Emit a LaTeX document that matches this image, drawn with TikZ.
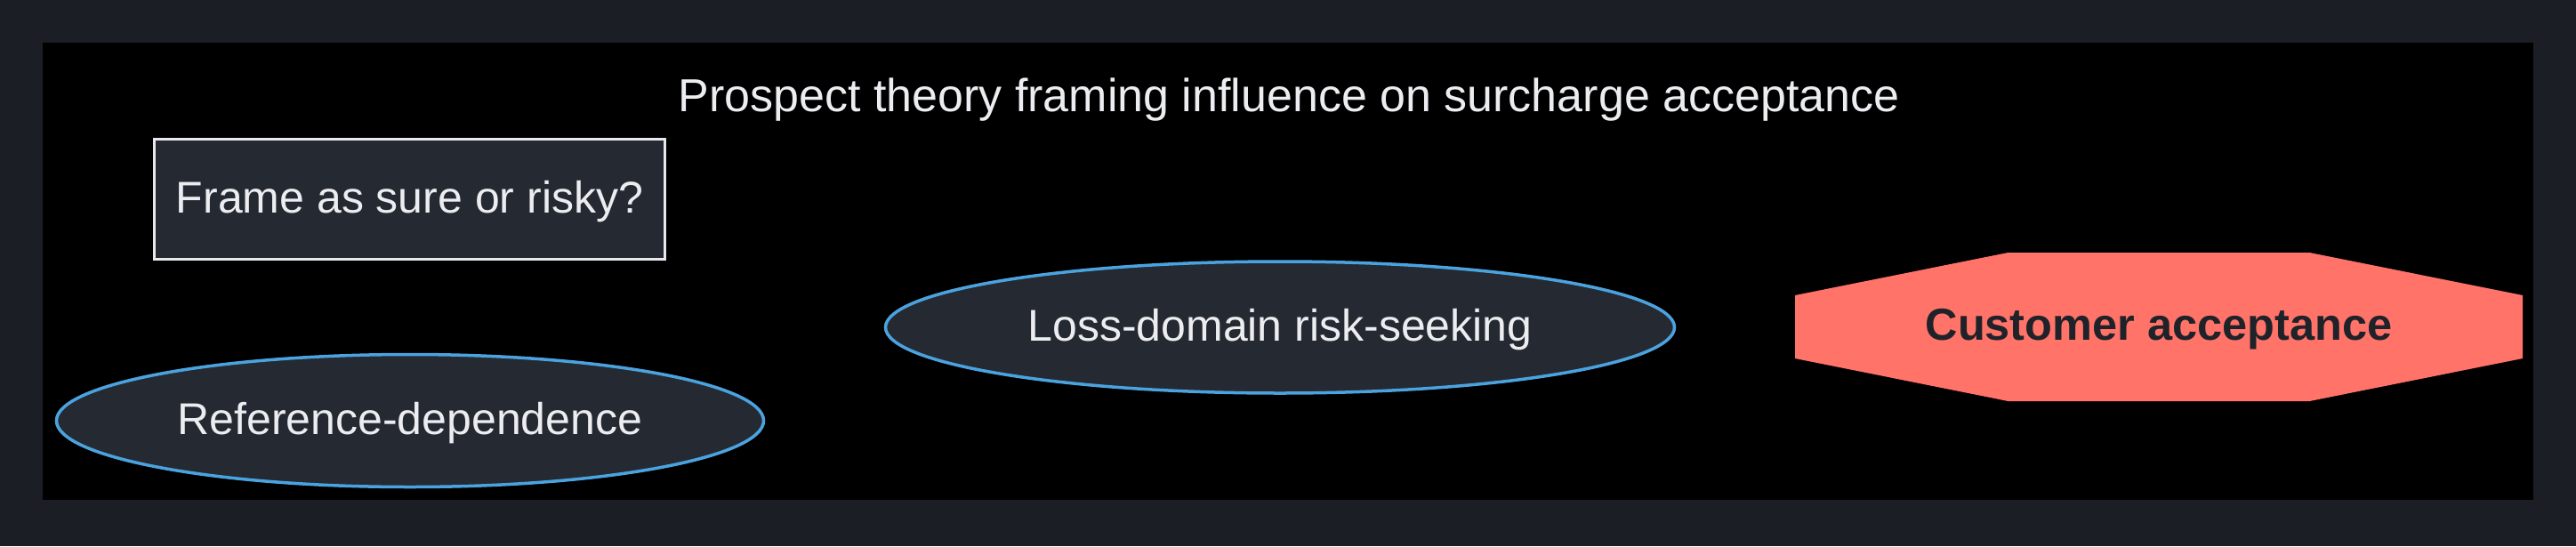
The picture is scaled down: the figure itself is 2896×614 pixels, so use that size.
\documentclass[tikz,border=0pt]{standalone}
\usepackage{fontspec}
\setmainfont{Liberation Sans}
\usetikzlibrary{shapes.geometric}
\definecolor{outerbg}{HTML}{1C1E25}
\definecolor{nodefill}{HTML}{252932}
\definecolor{ellstroke}{HTML}{4AA3DF}
\definecolor{rectstroke}{HTML}{E6E8EC}
\definecolor{txt}{HTML}{ECEDF0}
\definecolor{accfill}{HTML}{FF7369}
\definecolor{acctxt}{HTML}{1F2329}
\newcommand{\lowered}[1]{\raisebox{-3pt}[\height][\depth]{#1}}
\tikzset{
  lbl/.style={font=\fontsize{50}{60}\selectfont, text=txt},
  rectbox/.style={lbl, draw=rectstroke, line width=3.5pt, fill=nodefill, rectangle, inner sep=0pt, minimum width=574pt, minimum height=135pt},
  ellbox/.style={lbl, draw=ellstroke, line width=3.5pt, fill=nodefill, ellipse, inner sep=0pt},
  acclbl/.style={font=\fontsize{50.5}{60}\selectfont\bfseries, text=acctxt, inner sep=0pt}
}
\begin{document}
\begin{tikzpicture}[x=1pt,y=-1pt]
\useasboundingbox (0,0) rectangle (2896,614);
\fill[outerbg] (0,0) rectangle (2896,614);
\fill[black] (48,48) rectangle (2848,562);
\node[lbl, font=\fontsize{52}{60}\selectfont, anchor=base, inner sep=0pt] (title) at (1449,125) {Prospect theory framing influence on surcharge acceptance};
\node[rectbox] (frame) at (460.5,224) {\lowered{Frame as sure or risky?}};
\node[ellbox, minimum width=795pt, minimum height=149pt] (ref) at (461,473) {\lowered{Reference-dependence}};
\node[ellbox, minimum width=887pt, minimum height=148pt] (loss) at (1439,368) {\lowered{Loss-domain risk-seeking}};
\coordinate (accc) at (2427,367.5);
\fill[accfill] ([shift={(-409,-35.5)}]accc) -- ([shift={(-169.5,-83.5)}]accc) -- ([shift={(169.5,-83.5)}]accc) -- ([shift={(409,-35.5)}]accc) -- ([shift={(409,35.5)}]accc) -- ([shift={(169.5,83.5)}]accc) -- ([shift={(-169.5,83.5)}]accc) -- ([shift={(-409,35.5)}]accc) -- cycle;
\node[acclbl] (acc) at (accc) {\lowered{Customer acceptance}};
\end{tikzpicture}
\end{document}
